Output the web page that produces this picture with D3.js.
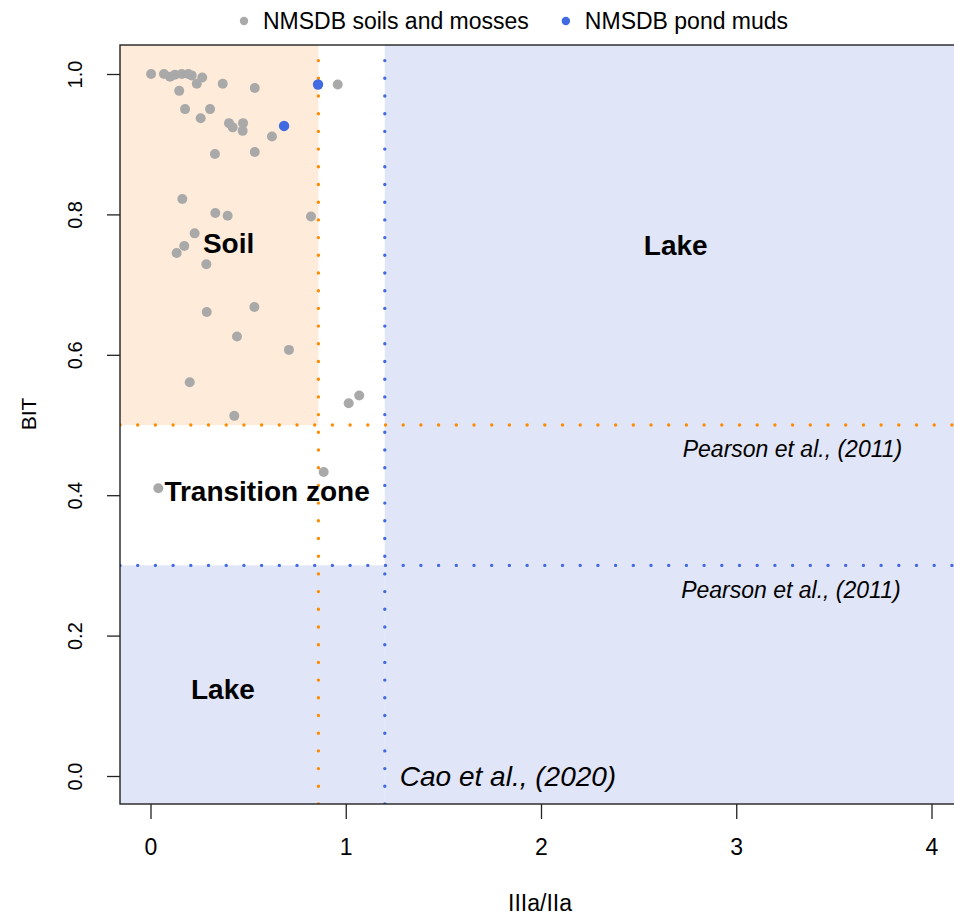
<!DOCTYPE html>
<html>
<head>
<meta charset="utf-8">
<script src="https://cdn.jsdelivr.net/npm/d3@7"></script>
<style>
  body { margin: 0; background: #fff; }
  svg { display: block; font-family: "Liberation Sans", Arial, Helvetica, sans-serif; }
</style>
</head>
<body>
<div id="chart"></div>
<script>
// --- data ---
// NMSDB soils and mosses (IIIa/IIa, BIT)
const soilsX = [0.003, 0.069, 0.100, 0.125, 0.160, 0.194, 0.211, 0.237, 0.265, 0.147,
                0.370, 0.534, 0.959, 0.177, 0.305, 0.257, 0.402, 0.421, 0.474, 0.472,
                0.622, 0.330, 0.534, 0.163, 0.332, 0.395, 0.822, 0.226, 0.173, 0.134,
                0.286, 0.288, 0.532, 0.443, 0.709, 0.201, 0.429, 1.015, 1.069, 0.887,
                0.040];
const soilsY = [1.000, 1.000, 0.996, 0.999, 1.000, 1.000, 0.998, 0.986, 0.995, 0.976,
                0.986, 0.980, 0.985, 0.950, 0.950, 0.937, 0.930, 0.924, 0.930, 0.919,
                0.911, 0.886, 0.889, 0.822, 0.802, 0.798, 0.797, 0.773, 0.755, 0.745,
                0.729, 0.661, 0.668, 0.626, 0.607, 0.561, 0.513, 0.531, 0.542, 0.433,
                0.410];
// NMSDB pond muds
const pondX = [0.858, 0.684];
const pondY = [0.985, 0.926];

const xTicks = [0, 1, 2, 3, 4];
const yTicks = [0, 0.2, 0.4, 0.6, 0.8, 1.0];

// thresholds: soil (orange) and lake (blue)
const soilCut = { x: 0.86, y: 0.5 };
const lakeCut = { x: 1.2, y: 0.3 };

const zoneLabels = [
  { text: "Soil", x: 0.40, y: 0.76 },
  { text: "Lake", x: 2.69, y: 0.756 },
  { text: "Transition zone", x: 0.597, y: 0.406 },
  { text: "Lake", x: 0.371, y: 0.124 }
];
const refLabels = [
  { text: "Pearson et al., (2011)", x: 3.288, y: 0.466, size: 23 },
  { text: "Pearson et al., (2011)", x: 3.280, y: 0.266, size: 23 },
  { text: "Cao et al., (2020)", x: 1.831, y: 0.0, size: 28 }
];
const legendItems = [
  { label: "NMSDB soils and mosses", color: "#a9a9a9" },
  { label: "NMSDB pond muds", color: "#4169e1" }
];

const COL = {
  soilFill: "#feebd9",
  lakeFill: "#e0e5f7",
  orange: "#ff8c00",
  blue: "#4169e1",
  grey: "#a9a9a9"
};

const width = 954, height = 915;
const m = { top: 45, left: 120, bottom: 804, right: 1004 };

const svg = d3.select("#chart").append("svg")
  .attr("width", width)
  .attr("height", height);

const x = d3.scaleLinear().domain([0, 4]).range([150.5, 931.5]);
const y = d3.scaleLinear().domain([0, 1]).range([776, 74]);

const xMin = x.invert(m.left), xMax = x.invert(m.right);
const yMin = y.invert(m.bottom), yMax = y.invert(m.top);

svg.append("clipPath").attr("id", "plot-clip")
  .append("rect")
  .attr("x", m.left).attr("y", m.top)
  .attr("width", m.right - m.left).attr("height", m.bottom - m.top);

const plot = svg.append("g").attr("clip-path", "url(#plot-clip)");

// ----- shaded zones -----
const zones = [
  { x0: xMin, x1: soilCut.x, y0: soilCut.y, y1: yMax, fill: COL.soilFill },
  { x0: lakeCut.x, x1: xMax, y0: yMin, y1: yMax, fill: COL.lakeFill },
  { x0: xMin, x1: lakeCut.x, y0: yMin, y1: lakeCut.y, fill: COL.lakeFill }
];
plot.selectAll("rect.zone")
  .data(zones)
  .enter()
  .append("rect")
  .attr("class", "zone")
  .attr("x", d => x(d.x0))
  .attr("y", d => y(d.y1))
  .attr("width", d => x(d.x1) - x(d.x0))
  .attr("height", d => y(d.y0) - y(d.y1))
  .attr("fill", d => d.fill);

// ----- dotted threshold lines -----
const cutLines = [
  { x1: xMin, y1: soilCut.y, x2: xMax, y2: soilCut.y, color: COL.orange },
  { x1: xMin, y1: lakeCut.y, x2: xMax, y2: lakeCut.y, color: COL.blue },
  { x1: soilCut.x, y1: yMin, x2: soilCut.x, y2: yMax, color: COL.orange },
  { x1: lakeCut.x, y1: yMin, x2: lakeCut.x, y2: yMax, color: COL.blue }
];
plot.selectAll("line.cut")
  .data(cutLines)
  .enter()
  .append("line")
  .attr("class", "cut")
  .attr("x1", d => x(d.x1)).attr("y1", d => y(d.y1))
  .attr("x2", d => x(d.x2)).attr("y2", d => y(d.y2))
  .attr("stroke", d => d.color)
  .attr("stroke-width", 3.4)
  .attr("stroke-linecap", "round")
  .attr("stroke-dasharray", "0.01 17.69");

// ----- points -----
const soils = soilsX.map((v, i) => ({ x: v, y: soilsY[i] }));
const ponds = pondX.map((v, i) => ({ x: v, y: pondY[i] }));

plot.selectAll("circle.soil")
  .data(soils)
  .enter()
  .append("circle")
  .attr("class", "soil")
  .attr("cx", d => x(d.x))
  .attr("cy", d => y(d.y))
  .attr("r", 5)
  .attr("fill", COL.grey);

plot.selectAll("circle.pond")
  .data(ponds)
  .enter()
  .append("circle")
  .attr("class", "pond")
  .attr("cx", d => x(d.x))
  .attr("cy", d => y(d.y))
  .attr("r", 5.2)
  .attr("fill", COL.blue);

// ----- annotations -----
plot.selectAll("text.zone-label")
  .data(zoneLabels)
  .enter()
  .append("text")
  .attr("class", "zone-label")
  .attr("x", d => x(d.x))
  .attr("y", d => y(d.y))
  .attr("dy", "0.36em")
  .attr("text-anchor", "middle")
  .attr("font-size", 28)
  .attr("font-weight", "bold")
  .attr("fill", "#000")
  .text(d => d.text);

plot.selectAll("text.ref-label")
  .data(refLabels)
  .enter()
  .append("text")
  .attr("class", "ref-label")
  .attr("x", d => x(d.x))
  .attr("y", d => y(d.y))
  .attr("dy", "0.36em")
  .attr("text-anchor", "middle")
  .attr("font-size", d => d.size)
  .attr("font-style", "italic")
  .attr("fill", "#000")
  .text(d => d.text);

// ----- box -----
svg.append("rect")
  .attr("x", m.left).attr("y", m.top)
  .attr("width", m.right - m.left).attr("height", m.bottom - m.top)
  .attr("fill", "none")
  .attr("stroke", "#222")
  .attr("stroke-width", 1.4);

// ----- axes -----
const xAxis = svg.append("g")
  .attr("transform", `translate(0,${m.bottom})`)
  .call(d3.axisBottom(x).tickValues(xTicks).tickFormat(d3.format("d"))
    .tickSize(15).tickPadding(20).tickSizeOuter(0));
xAxis.select(".domain").remove();
xAxis.selectAll(".tick line").attr("stroke", "#222").attr("stroke-width", 1.3);
xAxis.selectAll(".tick text")
  .attr("font-size", 23)
  .attr("font-family", "Liberation Sans, Arial, sans-serif")
  .attr("fill", "#000");

const yAxis = svg.append("g")
  .attr("transform", `translate(${m.left},0)`)
  .call(d3.axisLeft(y).tickValues(yTicks).tickFormat(d3.format(".1f"))
    .tickSize(13).tickSizeOuter(0));
yAxis.select(".domain").remove();
yAxis.selectAll(".tick line").attr("stroke", "#222").attr("stroke-width", 1.3);
yAxis.selectAll(".tick text")
  .attr("x", 0).attr("y", 0).attr("dy", "0.36em")
  .attr("text-anchor", "middle")
  .attr("transform", "translate(-45,0) rotate(-90)")
  .attr("font-size", 20)
  .attr("font-family", "Liberation Sans, Arial, sans-serif")
  .attr("fill", "#000");

// Axis titles
svg.append("text")
  .attr("x", x(2) - 1)
  .attr("y", 911)
  .attr("text-anchor", "middle")
  .attr("font-size", 23)
  .attr("fill", "#000")
  .text("IIIa/IIa");

svg.append("text")
  .attr("transform", "translate(28,414) rotate(-90)")
  .attr("dy", "0.36em")
  .attr("text-anchor", "middle")
  .attr("font-size", 21)
  .attr("fill", "#000")
  .text("BIT");

// ----- legend -----
const legend = svg.append("g").attr("transform", "translate(244,0)");
let lx = 0;
legendItems.forEach(d => {
  const g = legend.append("g").attr("transform", `translate(${lx},0)`);
  g.append("circle").attr("cx", 0).attr("cy", 21).attr("r", 4.2).attr("fill", d.color);
  const t = g.append("text")
    .attr("x", 19).attr("y", 21).attr("dy", "0.36em")
    .attr("font-size", 23)
    .attr("fill", "#000")
    .text(d.label);
  lx += 19 + t.node().getComputedTextLength() + 37;
});
</script>
</body>
</html>
